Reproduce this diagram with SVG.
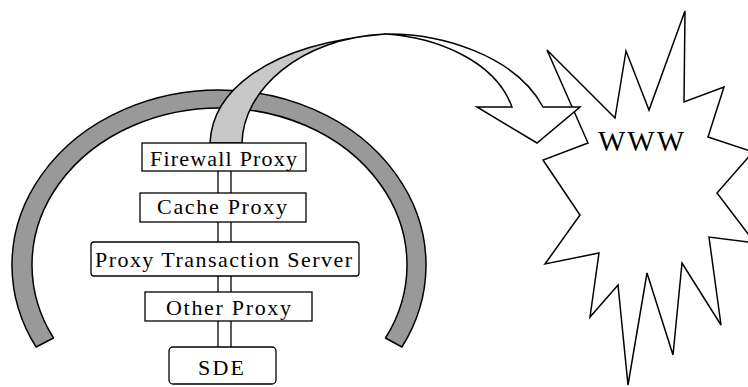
<svg xmlns="http://www.w3.org/2000/svg" width="748" height="387" viewBox="0 0 748 387">
  <style>
    .ring { fill: #999999; stroke: #000; stroke-width: 1.5; stroke-linejoin: round; }
    .band { fill: #c8c8c8; stroke: #000; stroke-width: 1.5; stroke-linejoin: round; }
    .arrow { fill: #ffffff; stroke: #000; stroke-width: 1.5; stroke-linejoin: miter; }
    .burst { fill: #ffffff; stroke: #000; stroke-width: 1.5; stroke-linejoin: miter; }
    .box { fill: #ffffff; stroke: #000; stroke-width: 1.3; }
    .link { stroke: #000; stroke-width: 1.3; fill: none; }
    .label { font-family: "Liberation Serif", "Times New Roman", serif; font-size: 22px; fill: #000; }
    .big { font-family: "Liberation Serif", "Times New Roman", serif; font-size: 29px; fill: #000; }
  </style>

  <!-- network boundary ring -->
  <g id="boundary">
    <path class="ring" d="M36.1,347 A207,175 0 1 1 401.9,347 L385.5,338 A187.5,157 0 1 0 53.5,338 Z"/>
  </g>

  <!-- internet cloud burst -->
  <g id="www">
    <polygon class="burst" points="547,50 615,118 626,51 649,110 685,11 684,102 724,87 708,137 753,152 717,193 755,243 709,237 721,325 682,263 673,355 647,273 628,385 618,285 590,317 599,253 545,264 580,215 543,160 588,143"/>
    <text class="big" x="598" y="151" textLength="86" lengthAdjust="spacing">WWW</text>
  </g>

  <!-- outbound ribbon arrow from the firewall to the web -->
  <g id="connectors">
    <path class="band" d="M210,143 C212,95 260,45 385,34 C300,38 243,90 242,143 Z"/>
    <path class="arrow" d="M385,34 C440,33 515,55 543,107 L580,107 L537,143 L477,107 L512,107 C495,60 435,37 385,34 Z"/>
    <!-- double-line links between stack layers -->
    <path class="link" d="M218,171 V193 M231,171 V193 M218,222 V242 M231,222 V242 M218,276 V292 M231,276 V292 M218,321 V347 M231,321 V347"/>
  </g>

  <g id="firewall-proxy">
    <rect class="box" x="142" y="143" width="164" height="28"/>
    <text class="label" x="150" y="165.5" textLength="147" lengthAdjust="spacing">Firewall Proxy</text>
  </g>

  <g id="cache-proxy">
    <rect class="box" x="140" y="193" width="166" height="29"/>
    <text class="label" x="157" y="213.5" textLength="130" lengthAdjust="spacing">Cache Proxy</text>
  </g>

  <g id="proxy-transaction-server">
    <rect class="box" x="91" y="242" width="268" height="34" rx="3"/>
    <text class="label" x="95" y="266.5" textLength="257" lengthAdjust="spacing">Proxy Transaction Server</text>
  </g>

  <g id="other-proxy">
    <rect class="box" x="145" y="292" width="167" height="29"/>
    <text class="label" x="166" y="315" textLength="125" lengthAdjust="spacing">Other Proxy</text>
  </g>

  <g id="sde">
    <rect class="box" x="169" y="347" width="107" height="37" rx="4"/>
    <text class="label" x="198" y="375" textLength="46" lengthAdjust="spacing">SDE</text>
  </g>
</svg>
